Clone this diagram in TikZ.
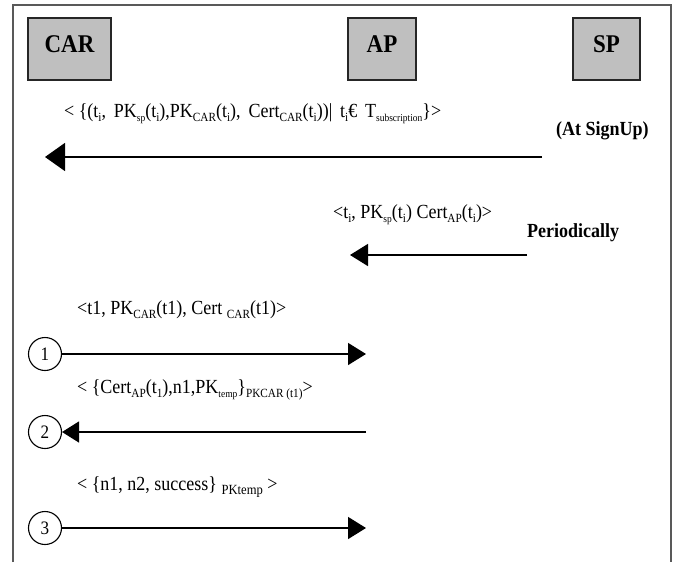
\documentclass[tikz,border=0pt]{standalone}
\usepackage{fontspec}
\setmainfont[FakeStretch=0.9]{Liberation Serif}
\usetikzlibrary{arrows.meta}
\newcommand\sbx[2][12.5]{\raisebox{-0.22em}{\fontsize{#1}{#1}\selectfont #2}}
\begin{document}
\begin{tikzpicture}[x=1pt,y=-1pt,
  actor/.style={draw=black!85, line width=1.2pt, fill=black!25, minimum width=#1, minimum height=62pt, inner sep=0pt, outer sep=0pt},
  actorlabel/.style={font=\fontsize{25.5}{25.5}\selectfont\bfseries, inner sep=0pt},
  msg/.style={anchor=base west, inner sep=0pt, font=\fontsize{20}{20}\selectfont},
  note/.style={anchor=base west, inner sep=0pt, font=\fontsize{20}{20}\selectfont\bfseries},
  stepcirc/.style={draw, circle, line width=1.1pt, minimum size=33pt, inner sep=0pt, font=\fontsize{19}{19}\selectfont},
  msgarrow/.style={line width=1.5pt, -{Triangle[length=18pt,width=22pt]}},
  framecol/.style={draw=black!65, line width=1.5pt}]
\useasboundingbox (0,0) rectangle (677,562);
% frame
\draw[framecol] (13,562) -- (13,5) -- (671,5) -- (671,562);
% actors
\node[actor=83pt] (car) at (69.5,49) {};
\node[actor=68pt] (ap) at (382,49) {};
\node[actor=67pt] (sp) at (606.5,49) {};
\node[actorlabel] (carl) at (69.5,44) {CAR};
\node[actorlabel] (apl) at (382,44) {AP};
\node[actorlabel] (spl) at (606.5,44) {SP};
% message 0 (at sign up)
\node[msg] (m0) at (64,117) {< \{(t\sbx{i}, \,PK\sbx[10.5]{sp}(t\sbx{i}),PK\sbx{CAR}(t\sbx{i}), \,Cert\sbx{CAR}(t\sbx{i}))| \,t\sbx{i}€ \,T\sbx[10.5]{subscription}\}>};
\node[note] (n0) at (556,135) {(At SignUp)};
\coordinate (a0s) at (542,157);
\coordinate (a0e) at (45,157);
\draw[line width=1.5pt, -{Triangle[length=20pt,width=28pt]}] (a0s) -- (a0e);
% periodically
\node[msg] (mp) at (333,218) {<t\sbx{i}, PK\sbx[10.5]{sp}(t\sbx{i}) Cert\sbx{AP}(t\sbx{i})>};
\node[note] (np) at (527,237) {Periodically};
\coordinate (aps) at (527,255);
\coordinate (ape) at (350,255);
\draw[msgarrow] (aps) -- (ape);
% step 1
\node[msg] (m1) at (77,314) {<t1, PK\sbx{CAR}(t1), Cert \sbx{CAR}(t1)>};
\node[stepcirc] (c1) at (45,354) {1};
\coordinate (e1) at (366,354);
\draw[msgarrow] (c1) -- (e1);
% step 2
\node[msg] (m2) at (77,393) {< \{Cert\sbx{AP}(t\sbx{1}),n1,PK\sbx[10.5]{temp}\}\sbx{PKCAR (t1)}>};
\node[stepcirc] (c2) at (45,432) {2};
\coordinate (s2) at (366,432);
\draw[msgarrow, -{Triangle[length=17pt,width=21pt]}] (s2) -- (c2);
% step 3
\node[msg] (m3) at (77,490) {< \{n1, n2, success\} \sbx[14]{PKtemp} >};
\node[stepcirc] (c3) at (45,528) {3};
\coordinate (e3) at (366,528);
\draw[msgarrow] (c3) -- (e3);
\end{tikzpicture}
\end{document}
